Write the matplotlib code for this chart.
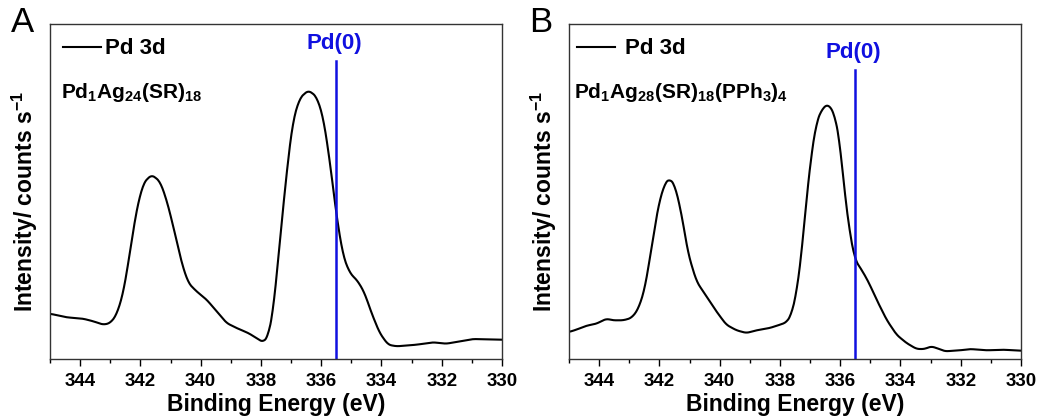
import numpy as np
import matplotlib
matplotlib.use('Agg')
import matplotlib.pyplot as plt
from matplotlib.ticker import MultipleLocator

plt.rcParams['font.family'] = ['Liberation Sans', 'DejaVu Sans']
plt.rcParams['font.weight'] = 'bold'
plt.rcParams['mathtext.fontset'] = 'custom'
plt.rcParams['mathtext.rm'] = 'Liberation Sans:bold'
plt.rcParams['mathtext.it'] = 'Liberation Sans:bold'
plt.rcParams['mathtext.bf'] = 'Liberation Sans:bold'

# Pd 3d spectra (binding energy in eV, intensity in arb. units)
energy_a = [345.0, 344.45, 343.9, 343.56, 343.23, 343.0, 342.79, 342.57, 342.35, 342.13,
            341.9, 341.63, 341.35, 341.13, 340.91, 340.63, 340.41, 340.14, 339.8, 339.47,
            339.14, 338.81, 338.42, 338.15, 337.93, 337.76, 337.59, 337.43, 337.26, 337.1,
            336.93, 336.71, 336.43, 336.16, 335.94, 335.72, 335.49, 335.27, 335.05, 334.78,
            334.56, 334.33, 334.06, 333.78, 333.5, 332.84, 332.29, 331.85, 331.4, 330.96, 330.0]
intensity_a = [45.3, 41.7, 40.3, 37.7, 34.3, 36.0, 44.3, 66.0, 106.0, 149.0,
               176.0, 184.3, 177.7, 159.0, 132.7, 96.0, 76.0, 67.7, 59.3, 47.7,
               36.0, 31.0, 26.0, 21.0, 16.7, 22.7, 49.3, 99.3, 152.7, 199.3,
               239.3, 261.0, 268.7, 262.7, 242.7, 199.3, 142.7, 102.7, 86.0, 77.7,
               66.0, 46.0, 26.0, 14.3, 12.7, 14.3, 16.7, 15.3, 17.7, 20.0, 19.3]

energy_b = [345.0, 344.76, 344.42, 344.09, 343.76, 343.54, 343.2, 342.93, 342.71, 342.49,
            342.27, 342.04, 341.82, 341.66, 341.49, 341.27, 341.05, 340.77, 340.44, 340.11,
            339.78, 339.44, 339.11, 338.78, 338.34, 338.0, 337.78, 337.62, 337.45, 337.28,
            337.12, 336.95, 336.79, 336.62, 336.4, 336.18, 336.01, 335.85, 335.68, 335.51,
            335.29, 335.07, 334.79, 334.46, 334.13, 333.8, 333.46, 333.19, 332.99, 332.8,
            332.52, 332.02, 331.69, 331.14, 330.58, 330.0]
intensity_b = [27.0, 29.3, 33.3, 35.3, 40.3, 38.7, 38.7, 41.0, 49.3, 69.3,
               109.3, 152.7, 176.0, 180.3, 174.3, 146.0, 106.0, 77.7, 62.7, 47.7,
               34.3, 28.7, 26.0, 28.7, 31.0, 34.3, 36.7, 44.3, 66.0, 106.0,
               159.3, 206.0, 236.0, 249.3, 255.3, 244.3, 216.0, 166.0, 126.0, 99.3,
               89.3, 77.7, 59.3, 39.3, 24.3, 16.0, 10.0, 10.0, 12.7, 11.0,
               7.7, 8.7, 10.0, 8.7, 9.3, 8.3]

pd0_energy = 335.5
panel_letters = ['A', 'B']
compounds = [r'Pd$_1$Ag$_{24}$(SR)$_{18}$', r'Pd$_1$Ag$_{28}$(SR)$_{18}$(PPh$_3$)$_4$']
pd0_top = [298, 289]

fig = plt.figure(figsize=(10.4, 4.2), dpi=100)
lefts = [0.0481, 0.5471]
datasets = [(energy_a, intensity_a), (energy_b, intensity_b)]
legend_x = [0.005, -0.006]
legend_gap = [0.18, 0.45]
compound_x = [0.025, 0.012]

for i in range(2):
    ax = fig.add_axes([lefts[i], 0.1452, 0.4346, 0.7976])
    x, y = datasets[i]
    smooth_x = np.linspace(345, 330, 600)
    # light smoothing of the hand-read points
    fine = np.interp(smooth_x[::-1], x[::-1], y[::-1])[::-1]
    k = 9
    fine = np.convolve(np.pad(fine, k // 2, mode='edge'), np.ones(k) / k, mode='valid')
    ax.plot(smooth_x, fine, color='black', lw=1.5, label='Pd 3d')

    ax.plot([pd0_energy, pd0_energy], [0, pd0_top[i]], color='#1010e0', lw=1.8)
    ax.text(pd0_energy + 0.05, pd0_top[i] + 7, 'Pd(0)', color='#1010e0', ha='center',
            va='bottom', fontsize=16, fontweight='bold')

    ax.set_xlim(345, 330)
    ax.set_ylim(0, 335)
    ax.xaxis.set_major_locator(MultipleLocator(2))
    ax.xaxis.set_minor_locator(MultipleLocator(1))
    ax.tick_params(axis='x', which='major', direction='out', length=5, width=1,
                   labelsize=13.5, pad=5)
    ax.tick_params(axis='x', which='minor', direction='out', length=3, width=1)
    ax.set_yticks([])
    for s in ax.spines.values():
        s.set_linewidth(1.0)
        s.set_color('#333333')

    ax.set_xlabel('Binding Energy (eV)', fontsize=16.5, fontweight='bold', labelpad=2)
    ax.set_ylabel(r'Intensity/ counts s$^{-1}$', fontsize=16.5, fontweight='bold')
    ax.yaxis.set_label_coords(-0.022, 0.47)

    ax.legend(loc='upper left', frameon=False, fontsize=16, handlelength=1.7,
              handletextpad=legend_gap[i], borderaxespad=0.1,
              bbox_to_anchor=(legend_x[i], 0.99))
    ax.text(compound_x[i], 0.78, compounds[i], transform=ax.transAxes,
            fontsize=15, fontweight='bold', ha='left', va='baseline')

    fig.text(lefts[i] - 0.038, 0.925, panel_letters[i], fontsize=25, fontweight='normal',
             ha='left', va='baseline')

fig.savefig('out.png', dpi=100)
